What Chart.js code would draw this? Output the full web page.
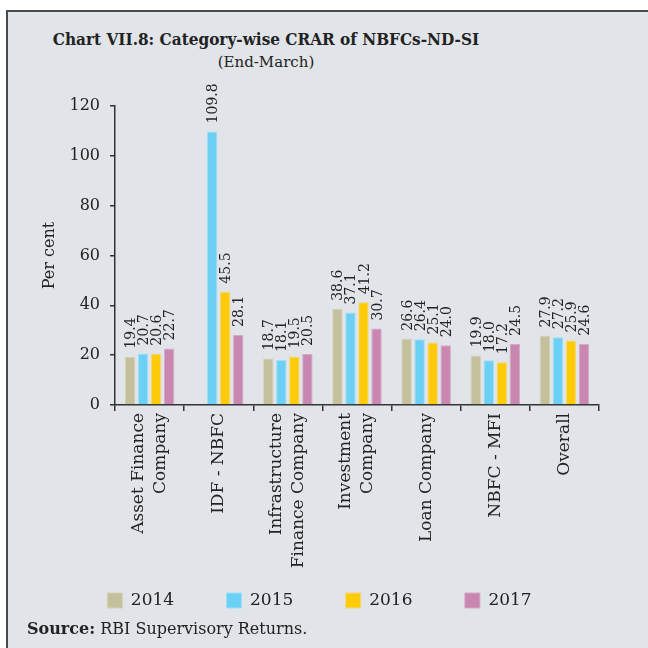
<!DOCTYPE html>
<html>
<head>
<meta charset="utf-8">
<script src="https://cdn.jsdelivr.net/npm/chart.js@4.4.1/dist/chart.umd.min.js"></script>
<style>
  html, body { margin: 0; padding: 0; width: 648px; height: 648px; overflow: hidden; background: #fff; }
  #frame { position: absolute; left: 6px; top: 10px; width: 660px; height: 660px; border: 2px solid #4a4a4a; background: #e1e4e8; }
  #wrap { position: absolute; left: 0; top: 0; width: 648px; height: 648px; }
  .t { position: absolute; font-family: "DejaVu Serif", serif; color: #222; white-space: nowrap; line-height: 1; }
  #title { left: 0; width: 532px; text-align: center; top: 31px; font-size: 17px; font-weight: bold; font-family: "DejaVu Serif Condensed", "DejaVu Serif", serif; }
  #sub { left: 0; width: 532px; text-align: center; top: 55px; font-size: 15px; }
  #src { left: 27px; top: 621px; font-size: 16px; }
</style>
</head>
<body>
<div id="frame"></div>
<div class="t" id="title">Chart VII.8: Category-wise CRAR of NBFCs-ND-SI</div>
<div class="t" id="sub">(End-March)</div>
<div id="wrap"><canvas id="c" width="648" height="648"></canvas></div>
<div class="t" id="src"><b>Source:</b> RBI Supervisory Returns.</div>
<script>
const categories = [
  ["Asset Finance", "Company"],
  ["IDF - NBFC"],
  ["Infrastructure", "Finance Company"],
  ["Investment", "Company"],
  ["Loan Company"],
  ["NBFC - MFI"],
  ["Overall"],
];
const years = ["2014", "2015", "2016", "2017"];
const crar2014 = [19.4, null, 18.7, 38.6, 26.6, 19.9, 27.9];
const crar2015 = [20.7, 109.8, 18.1, 37.1, 26.4, 18.0, 27.2];
const crar2016 = [20.6, 45.5, 19.5, 41.2, 25.1, 17.2, 25.9];
const crar2017 = [22.7, 28.1, 20.5, 30.7, 24.0, 24.5, 24.6];
const yTicks = [0, 20, 40, 60, 80, 100, 120];

const FONT = '"DejaVu Serif", serif';
const INK = "#222";
const AXIS = "#333";
const colors = ["#c4c09c", "#6cd0f5", "#fecb0a", "#c886b1"];
const edges = ["#d4d1b6", "#9fdff7", "#f3d879", "#d6a9c6"];

Chart.defaults.font.family = FONT;
Chart.defaults.color = INK;

const PAD_BOTTOM = 29;
const AXIS_Y = 405;

// rotated value labels above each bar
const valueLabels = {
  id: "valueLabels",
  afterDatasetsDraw(chart) {
    const ctx = chart.ctx;
    ctx.save();
    ctx.font = "14px " + FONT;
    ctx.fillStyle = INK;
    ctx.textAlign = "left";
    ctx.textBaseline = "alphabetic";
    chart.data.datasets.forEach((ds, i) => {
      chart.getDatasetMeta(i).data.forEach((bar, j) => {
        const v = ds.data[j];
        if (v == null) return;
        ctx.save();
        ctx.translate(bar.x, bar.y - 8);
        ctx.rotate(-Math.PI / 2);
        ctx.fillText(v.toFixed(1), 0, 5);
        ctx.restore();
      });
    });
    ctx.restore();
  },
};

// category names, rotated, with multi-line names centred on the tick
const xLabels = {
  id: "xLabels",
  afterDraw(chart) {
    const sc = chart.scales.x, ctx = chart.ctx;
    const lh = 22;
    ctx.save();
    ctx.font = "17px " + FONT;
    ctx.fillStyle = INK;
    ctx.textAlign = "right";
    ctx.textBaseline = "middle";
    categories.forEach((lines, i) => {
      const x0 = sc.getPixelForTick(i);
      lines.forEach((line, k) => {
        ctx.save();
        ctx.translate(x0 + (k - (lines.length - 1) / 2) * lh, sc.top + 8);
        ctx.rotate(-Math.PI / 2);
        ctx.fillText(line, 0, 0);
        ctx.restore();
      });
    });
    ctx.restore();
  },
};

const series = [crar2014, crar2015, crar2016, crar2017];

new Chart(document.getElementById("c"), {
  type: "bar",
  data: {
    labels: categories,
    datasets: years.map((y, i) => ({
      label: y,
      data: series[i],
      backgroundColor: colors[i],
      borderColor: edges[i],
      borderWidth: 1,
      categoryPercentage: 0.754,
      barPercentage: 0.8,
    })),
  },
  options: {
    responsive: false,
    animation: false,
    layout: { padding: { top: 106, left: 40, right: 49, bottom: PAD_BOTTOM } },
    plugins: {
      title: { display: false },
      tooltip: { enabled: false },
      legend: {
        position: "bottom",
        labels: {
          boxWidth: 15, boxHeight: 15, padding: 20, color: INK, font: { size: 17, family: FONT },
          // widen the gaps between entries without inflating the legend's height
          generateLabels(chart) {
            const items = Chart.defaults.plugins.legend.labels.generateLabels(chart);
            items.forEach((it, i) => { if (i < items.length - 1) it.text += "      "; });
            return items;
          },
        },
      },
    },
    scales: {
      x: {
        grid: { offset: true, drawOnChartArea: false, tickLength: 6, color: AXIS, lineWidth: 1.5 },
        border: { color: AXIS, width: 1.5 },
        ticks: { display: false },
        afterFit(s) { s.height = s.chart.height - AXIS_Y - s.chart.legend.height - PAD_BOTTOM; },
      },
      y: {
        min: 0, max: 120,
        afterBuildTicks(s) { s.ticks = yTicks.map((v) => ({ value: v })); },
        grid: { drawOnChartArea: false, tickLength: 5, color: AXIS, lineWidth: 1.5 },
        border: { color: AXIS, width: 1.5 },
        ticks: { padding: 10, color: INK, font: { size: 16 } },
        title: { display: true, text: "Per cent", color: INK, font: { size: 16 }, padding: { top: 0, bottom: 0 } },
        afterFit(s) { s.width = 75; },
      },
    },
  },
  plugins: [valueLabels, xLabels],
});
</script>
</body>
</html>
